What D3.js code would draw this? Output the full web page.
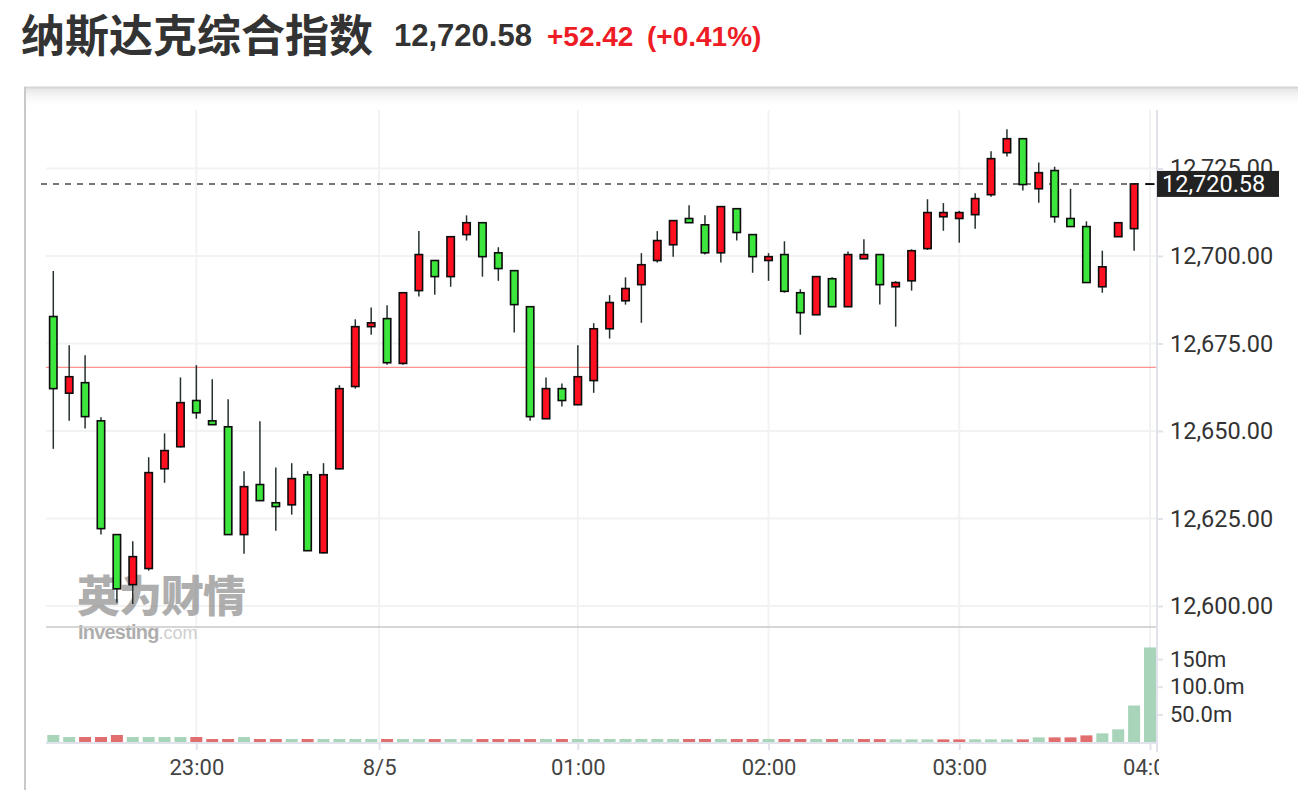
<!DOCTYPE html>
<html><head><meta charset="utf-8">
<script src="https://cdn.jsdelivr.net/npm/d3@7/dist/d3.min.js"></script>
<style>body{margin:0;background:#fff;overflow:hidden} svg{display:block}</style>
</head><body><svg id="c" width="1298" height="790"></svg>
<script>
// ---------- data ----------
const opens  = [12682.7,12660.8,12663.8,12652.9,12620.4,12606.1,12610.7,12639.2,12645.5,12658.7,
                12652.9,12651.2,12620.4,12634.7,12629.5,12628.9,12637.5,12615.2,12639.2,12662.7,
                12679.8,12682.1,12669.3,12690.1,12698.7,12694.1,12706.1,12709.5,12700.9,12695.8,
                12685.5,12653.5,12662.1,12657.5,12664.4,12679.2,12687.2,12691.8,12698.7,12703.2,
                12710.7,12708.9,12700.9,12713.5,12706.1,12698.7,12700.4,12689.5,12683.2,12693.5,
                12685.5,12699.2,12700.4,12691.2,12692.9,12702.1,12711.2,12710.7,12711.8,12717.5,
                12729.5,12733.5,12719.2,12724.4,12710.7,12708.4,12691.2,12705.5,12707.8,12720.58];
const highs  = [12695.7,12674.5,12671.6,12653.9,12620.6,12618.5,12642.5,12649.3,12665.3,12668.8,
                12664.8,12659.1,12638.5,12652.8,12639.6,12640.8,12638.5,12640.8,12663.1,12681.9,
                12685.3,12685.9,12689.6,12707.1,12698.8,12705.6,12711.6,12709.6,12702.5,12696.0,
                12685.7,12665.3,12663.6,12674.5,12680.8,12688.8,12693.9,12700.8,12707.1,12710.2,
                12714.5,12711.6,12714.2,12713.6,12706.2,12700.8,12704.2,12690.5,12694.2,12693.9,
                12701.3,12704.8,12700.5,12692.8,12701.9,12716.2,12715.1,12712.9,12717.9,12729.9,
                12736.2,12733.6,12726.7,12725.5,12719.2,12709.9,12701.5,12709.6,12720.6,12720.58];
const lows   = [12644.9,12652.9,12650.7,12620.4,12600.9,12600.6,12610.1,12635.2,12645.3,12653.5,
                12651.7,12620.3,12614.9,12630.0,12621.5,12626.1,12615.7,12615.0,12639.0,12662.1,
                12677.5,12668.9,12668.9,12688.4,12688.9,12691.2,12704.4,12694.1,12692.9,12678.1,
                12652.9,12653.4,12657.0,12657.4,12660.9,12676.4,12686.1,12680.9,12698.1,12699.8,
                12709.4,12700.4,12698.1,12704.4,12695.2,12692.9,12689.5,12677.5,12683.1,12685.4,
                12685.4,12699.1,12686.1,12679.8,12690.1,12701.7,12707.2,12703.8,12707.8,12716.9,
                12728.4,12718.7,12715.2,12709.5,12708.3,12692.3,12689.5,12705.4,12701.5,12720.58];
const closes = [12662.1,12665.5,12654.1,12622.1,12604.9,12614.1,12638.1,12644.4,12658.1,12655.2,
                12651.8,12620.4,12634.1,12630.1,12628.4,12636.4,12615.8,12637.5,12662.1,12679.8,
                12680.9,12669.5,12689.5,12700.4,12694.1,12705.5,12709.5,12699.8,12696.4,12686.1,
                12654.1,12662.1,12658.7,12665.5,12679.2,12686.7,12690.7,12697.5,12704.4,12710.1,
                12709.5,12700.9,12714.1,12706.7,12699.8,12699.8,12689.9,12683.8,12694.1,12685.5,
                12700.4,12700.4,12691.8,12692.4,12701.5,12712.4,12712.4,12712.4,12716.4,12727.8,
                12733.5,12720.4,12723.8,12711.2,12708.4,12692.4,12696.9,12709.5,12720.58,12720.58];
// volume in millions
const volumes = [12.7,9,9,9,12.7,9,9,9,9,9,
                 5.4,5.4,9,5.4,5.4,5.4,5.4,5.4,5.4,5.4,
                 5.4,5.4,5.4,5.4,5.4,5.4,5.4,5.4,5.4,5.4,
                 5.4,5.4,5.4,5.4,5.4,5.4,5.4,5.4,5.4,5.4,
                 5.4,5.4,5.4,5.4,5.4,5.4,5.4,5.4,5.4,5.4,
                 5.4,5.4,5.2,4.8,4.8,4.8,4.8,4.8,4.8,4.8,
                 4.8,4.8,8.4,8.4,8.4,12,15.7,22.9,66,171];
const volDir = ["g","g","r","r","r","g","g","g","g","r",
                "r","r","g","r","r","g","r","g","g","g",
                "g","r","g","g","r","g","g","r","r","r",
                "r","g","r","g","g","g","g","g","g","g",
                "r","r","g","r","r","g","r","r","g","r",
                "g","r","r","g","g","g","r","r","g","g",
                "g","r","g","r","r","r","g","g","g","g"];
const priceTicks = [12600,12625,12650,12675,12700,12725];
const volTicks = [50,100,150];
const volTickLabels = ["50.0m","100.0m","150m"];
const timeTickIdx = [9,20.5,33,45,57,69];
const timeTickLabels = ["23:00","8/5","01:00","02:00","03:00","04:00"];
const lastPrice = 12720.58;
const prevClose = 12668.16;
const titleText = "纳斯达克综合指数";
const priceText = "12,720.58";
const changeText = "+52.42";
const pctText = "(+0.41%)";

// ---------- layout ----------
const svg = d3.select("#c");
const plotL = 46, plotR = 1157, priceTop = 110, priceBot = 627, volTop = 627, volBot = 742;
const x = d3.scaleLinear().domain([0, 69]).range([53.3, 1150]);
const y = d3.scaleLinear().domain([12594, 12741.7]).range([priceBot, priceTop]);
const yv = d3.scaleLinear().domain([0, 208]).range([volBot, volTop]);
const RED = "#ff1020", GREEN = "#3de63d";
const AXF = 23.5;

// title
svg.append("text").attr("x", 21).attr("y", 52).text(titleText)
  .attr("font-family", "'Noto Sans CJK SC', sans-serif").attr("font-weight", 700)
  .attr("font-size", 44).attr("fill", "#333");
svg.append("text").attr("x", 394).attr("y", 46).text(priceText)
  .attr("font-family", "'Liberation Sans', Arial, sans-serif").attr("font-weight", 700)
  .attr("font-size", 31).attr("fill", "#333");
svg.append("text").attr("x", 547).attr("y", 46).text(changeText)
  .attr("font-family", "'Liberation Sans', Arial, sans-serif").attr("font-weight", 700)
  .attr("font-size", 28).attr("fill", "#ee1c25");
svg.append("text").attr("x", 647).attr("y", 46).text(pctText)
  .attr("font-family", "'Liberation Sans', Arial, sans-serif").attr("font-weight", 700)
  .attr("font-size", 28).attr("fill", "#ee1c25");

// chart frame with shadow
const defs = svg.append("defs");
const g1 = defs.append("linearGradient").attr("id", "shd").attr("x1", 0).attr("y1", 0).attr("x2", 0).attr("y2", 1);
g1.append("stop").attr("offset", 0).attr("stop-color", "#e4e4e4");
g1.append("stop").attr("offset", 1).attr("stop-color", "#ffffff").attr("stop-opacity", 0);
svg.append("rect").attr("x", 25).attr("y", 88).attr("width", 1273).attr("height", 20).attr("fill", "url(#shd)");
svg.append("line").attr("x1", 24).attr("x2", 1298).attr("y1", 87.5).attr("y2", 87.5).attr("stroke", "#d6d6d6").attr("stroke-width", 2);
svg.append("line").attr("x1", 25).attr("x2", 25).attr("y1", 87).attr("y2", 790).attr("stroke", "#c9c9c9").attr("stroke-width", 2);

// grid
svg.append("g").selectAll("line").data(priceTicks).join("line")
  .attr("x1", plotL).attr("x2", plotR).attr("y1", d => y(d)).attr("y2", d => y(d))
  .attr("stroke", "#f2f2f2").attr("stroke-width", 2);
svg.append("g").selectAll("line").data(timeTickIdx).join("line")
  .attr("x1", d => x(d)).attr("x2", d => x(d)).attr("y1", priceTop).attr("y2", volBot)
  .attr("stroke", "#f2f2f2").attr("stroke-width", 2);

// watermark
const wm = svg.append("g").attr("opacity", 0.6);
wm.append("text").attr("x", 77).attr("y", 612).text("英为财情")
  .attr("font-family", "'Noto Sans CJK SC', sans-serif").attr("font-weight", 900)
  .attr("font-size", 43).attr("fill", "#7a7a7a").attr("letter-spacing", -1);
const wm2 = wm.append("text").attr("x", 78).attr("y", 639)
  .attr("font-family", "'Liberation Sans', Arial, sans-serif").attr("font-size", 20).attr("fill", "#7a7a7a");
wm2.append("tspan").text("Investing").attr("font-weight", 700).attr("letter-spacing", -0.8);
wm2.append("tspan").text(".com").attr("fill", "#b0b0b0").attr("font-size", 18);

// previous close line
svg.append("line").attr("x1", plotL).attr("x2", plotR).attr("y1", y(prevClose)).attr("y2", y(prevClose))
  .attr("stroke", "#ff9090").attr("stroke-width", 1.2);

// last price dashed line
svg.append("line").attr("x1", 41).attr("x2", plotR).attr("y1", y(lastPrice)).attr("y2", y(lastPrice))
  .attr("stroke", "#4a4a4a").attr("stroke-width", 1.5).attr("stroke-dasharray", "6,6");

// candles
const idx = d3.range(opens.length);
const cg = svg.append("g");
cg.selectAll("line").data(idx).join("line")
  .attr("x1", i => x(i)).attr("x2", i => x(i))
  .attr("y1", i => y(highs[i])).attr("y2", i => y(lows[i]))
  .attr("stroke", "#263030").attr("stroke-width", 1.5);
cg.selectAll("rect").data(idx).join("rect")
  .attr("x", i => x(i) - 3.7).attr("width", 7.4)
  .attr("y", i => y(Math.max(opens[i], closes[i])))
  .attr("height", i => Math.max(0.3, Math.abs(y(opens[i]) - y(closes[i]))))
  .attr("fill", i => closes[i] > opens[i] ? RED : (closes[i] < opens[i] ? GREEN : "#111"))
  .attr("stroke", "#0d0d0d").attr("stroke-width", 1.6);

// volume
svg.append("g").selectAll("rect").data(idx).join("rect")
  .attr("x", i => x(i) - 6).attr("width", 12)
  .attr("y", i => yv(volumes[i])).attr("height", i => yv(0) - yv(volumes[i]))
  .attr("fill", i => volDir[i] === "r" ? "#e06e6e" : "#a8d5b9");

// pane separators
svg.append("line").attr("x1", plotL).attr("x2", plotR).attr("y1", volTop).attr("y2", volTop)
  .attr("stroke", "#c8c8c8").attr("stroke-width", 1.5);
svg.append("line").attr("x1", plotL).attr("x2", plotR).attr("y1", volBot + 1).attr("y2", volBot + 1)
  .attr("stroke", "#e0e3eb").attr("stroke-width", 2);

// right axis line
svg.append("line").attr("x1", plotR).attr("x2", plotR).attr("y1", priceTop).attr("y2", 752)
  .attr("stroke", "#e0e3eb").attr("stroke-width", 2);

// price axis
const pa = svg.append("g").attr("transform", `translate(${plotR},0)`)
  .call(d3.axisRight(y).tickValues(priceTicks).tickFormat(d3.format(",.2f")).tickSize(6).tickPadding(7));
pa.select(".domain").remove();
pa.selectAll(".tick line").attr("stroke", "#e0e3eb").attr("stroke-width", 2);
pa.selectAll(".tick text").attr("font-family", "Roboto, sans-serif").attr("font-size", AXF).attr("fill", "#333");

// volume axis
const va = svg.append("g").attr("transform", `translate(${plotR},0)`)
  .call(d3.axisRight(yv).tickValues(volTicks).tickFormat((d, i) => volTickLabels[i]).tickSize(6).tickPadding(7));
va.select(".domain").remove();
va.selectAll(".tick line").attr("stroke", "#e0e3eb").attr("stroke-width", 2);
va.selectAll(".tick text").attr("font-family", "Roboto, sans-serif").attr("font-size", 22).attr("fill", "#333");

// time axis
defs.append("clipPath").attr("id", "xclip").append("rect").attr("x", 0).attr("y", 740).attr("width", plotR + 2).attr("height", 50);
const ta = svg.append("g").attr("clip-path", "url(#xclip)").append("g").attr("transform", `translate(0,${volBot + 1})`)
  .call(d3.axisBottom(x).tickValues(timeTickIdx).tickFormat((d, i) => timeTickLabels[i]).tickSize(7).tickPadding(9));
ta.select(".domain").remove();
ta.selectAll(".tick line").attr("stroke", "#e0e3eb").attr("stroke-width", 2);
ta.selectAll(".tick text").attr("font-family", "Roboto, sans-serif").attr("font-size", 22).attr("fill", "#444");

// last price label
svg.append("rect").attr("x", plotR).attr("y", y(lastPrice) - 13).attr("width", 122).attr("height", 26).attr("fill", "#222");
svg.append("text").attr("x", plotR + 5).attr("y", y(lastPrice)).attr("dy", "0.36em").text(d3.format(",.2f")(lastPrice))
  .attr("font-family", "Roboto, sans-serif").attr("font-size", AXF).attr("fill", "#fff");
</script></body></html>
